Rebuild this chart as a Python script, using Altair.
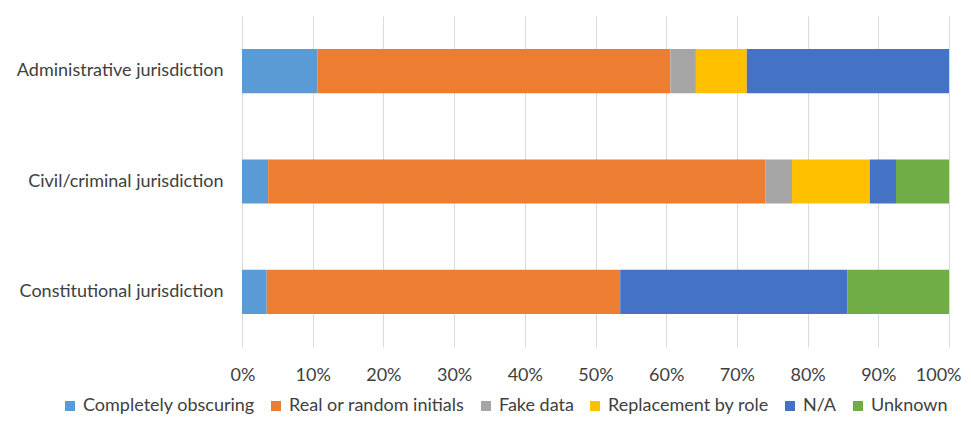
import altair as alt
import pandas as pd

categories = ["Administrative jurisdiction", "Civil/criminal jurisdiction", "Constitutional jurisdiction"]
series = ["Completely obscuring", "Real or random initials", "Fake data", "Replacement by role", "N/A", "Unknown"]
colors = ["#5B9BD5", "#ED7D31", "#A5A5A5", "#FFC000", "#4472C4", "#70AD47"]

admin = [10.7, 49.9, 3.6, 7.2, 28.6, 0.0]
civil = [3.7, 70.3, 3.8, 11.0, 3.7, 7.5]
constitutional = [3.5, 50.0, 0.0, 0.0, 32.1, 14.4]

rows = []
for cat, vals in zip(categories, [admin, civil, constitutional]):
    for i, (s, v) in enumerate(zip(series, vals)):
        rows.append({"category": cat, "series": s, "value": v / 100.0, "order": i})
df = pd.DataFrame(rows)

FONT = "Lato"

chart = alt.Chart(df).mark_bar().encode(
    y=alt.Y("category:N", sort=categories, title=None,
            scale=alt.Scale(paddingInner=0.6, paddingOuter=0.3),
            axis=alt.Axis(ticks=False, domain=False, labelFontSize=18, labelColor="#404040",
                          labelFont=FONT, labelPadding=19, labelLimit=300)),
    x=alt.X("value:Q", stack="zero", title=None,
            scale=alt.Scale(domain=[0, 1], nice=False),
            axis=alt.Axis(format=".0%", values=[i / 10 for i in range(11)], ticks=False, domain=False,
                          grid=True, gridColor="#d9d9d9", labelFontSize=18, labelColor="#404040",
                          labelFont=FONT, labelPadding=19, labelFlush=True, labelFlushOffset=12,
                          labelOverlap=False)),
    color=alt.Color("series:N", sort=series, scale=alt.Scale(domain=series, range=colors),
                    legend=alt.Legend(title=None, orient="none", direction="horizontal",
                                      legendX=-181, legendY=381, symbolType="square", symbolSize=100,
                                      symbolStrokeWidth=0, labelFontSize=18, labelColor="#404040",
                                      labelFont=FONT, columnPadding=12, labelOffset=4, labelLimit=300)),
    order=alt.Order("order:Q"),
).properties(
    width=707, height=331,
    autosize=alt.AutoSizeParams(type="none"),
    padding={"left": 234, "top": 8, "right": 14, "bottom": 68},
).configure_view(stroke=None)

chart.save("out.html", embed_options={"renderer": "svg", "actions": False})
